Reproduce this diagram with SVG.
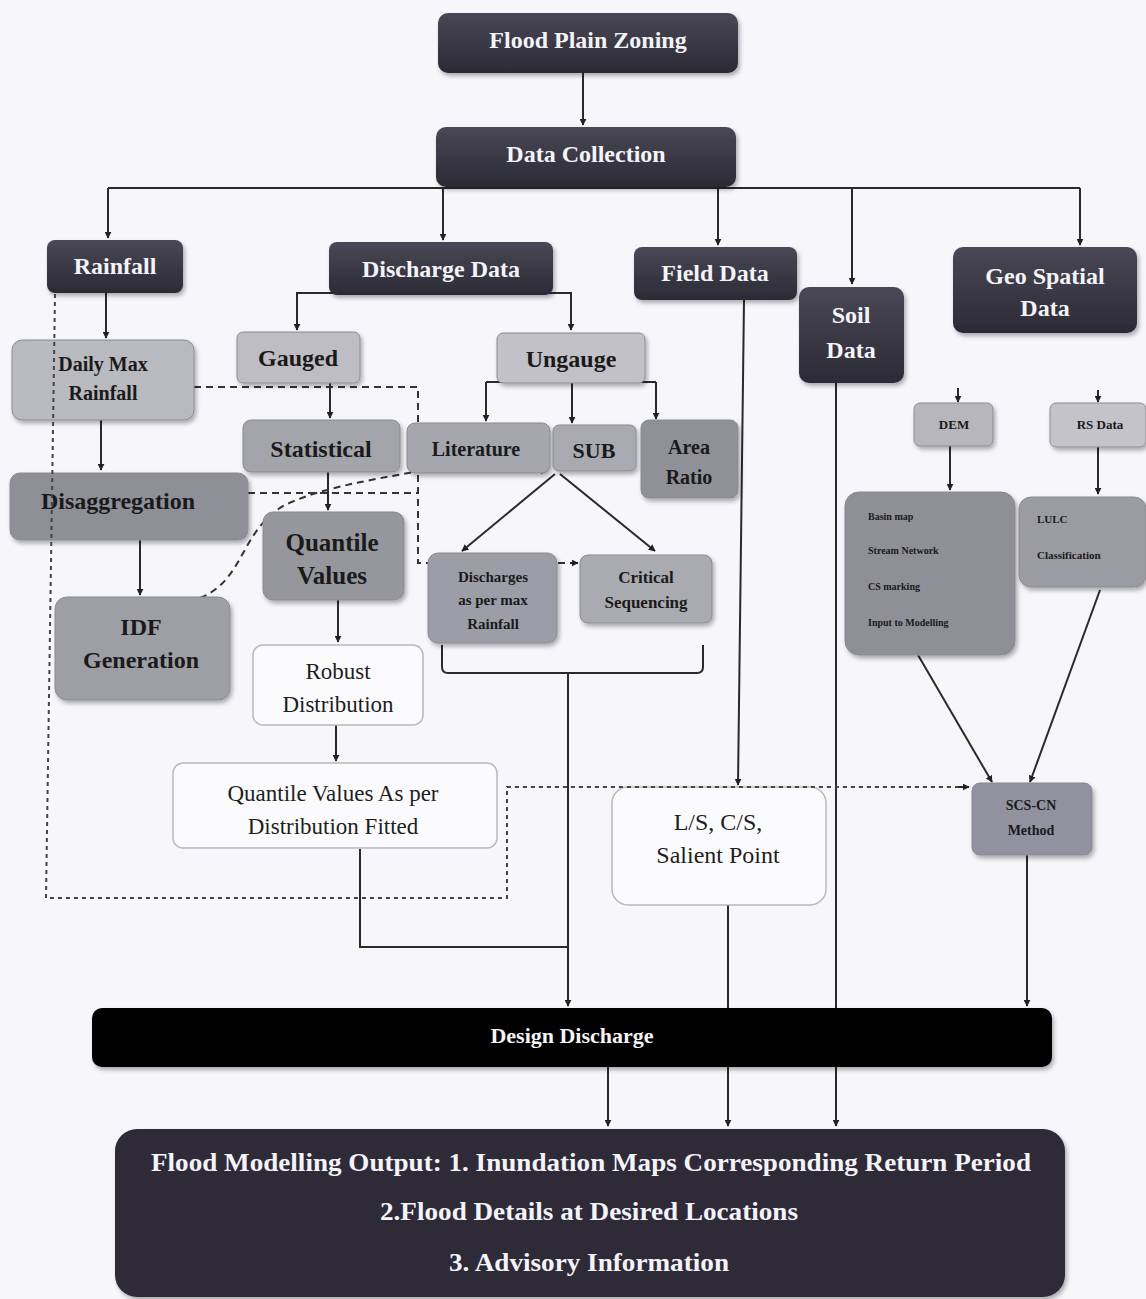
<svg xmlns="http://www.w3.org/2000/svg" width="1146" height="1299" viewBox="0 0 1146 1299">
<defs>
<marker id="ah" viewBox="0 0 10 10" refX="9" refY="5" markerWidth="7" markerHeight="7" orient="auto-start-reverse" markerUnits="userSpaceOnUse">
<path d="M0,0 L10,5 L0,10 z" fill="#222"/>
</marker>
<linearGradient id="dark" x1="0" y1="0" x2="0" y2="1">
<stop offset="0" stop-color="#4a4856"/>
<stop offset="1" stop-color="#2c2a36"/>
</linearGradient>
<filter id="sh" x="-10%" y="-10%" width="125%" height="130%">
<feDropShadow dx="2" dy="3" stdDeviation="2" flood-color="#000" flood-opacity="0.3"/>
</filter>
</defs>
<style>
text{font-family:"Liberation Serif","Times New Roman",serif;text-anchor:middle;}
.dk rect{fill:url(#dark);filter:url(#sh);}
.dk text{fill:#f4f4f8;font-weight:bold;}
.gr text{fill:#1a1a1a;font-weight:bold;}
.gr rect{filter:url(#sh);stroke:#8a8a92;stroke-width:1;}
.wh rect{fill:#fbfbfd;stroke:#b8b8c0;stroke-width:1.5;}
.wh text{fill:#1e1e1e;}
.ln{fill:none;stroke:#2a2a2a;stroke-width:2;}
.ar{marker-end:url(#ah);}
.ds{fill:none;stroke:#333;stroke-width:2;stroke-dasharray:7,5;}
.dt{fill:none;stroke:#444;stroke-width:2;stroke-dasharray:4,4;}
</style>
<rect width="1146" height="1299" fill="#f6f6fb"/>

<g id="connectors">
<path class="ln ar" d="M583,73 V125"/>
<path class="ln" d="M108,188 H1080"/>
<path class="ln ar" d="M108,188 V238"/>
<path class="ln ar" d="M443,188 V240"/>
<path class="ln ar" d="M718,188 V245"/>
<path class="ln ar" d="M852,188 V284"/>
<path class="ln ar" d="M1080,188 V245"/>
<path class="ln ar" d="M106,293 V338"/>
<path class="ln ar" d="M434,293 H297 V330"/>
<path class="ln ar" d="M434,293 H571 V330"/>
<path class="ln" d="M486,382 H656"/>
<path class="ln ar" d="M486,382 V421"/>
<path class="ln ar" d="M572,382 V423"/>
<path class="ln ar" d="M656,382 V419"/>
<path class="ln ar" d="M330,383 V418"/>
<path class="ln ar" d="M101,420 V470"/>
<path class="ln ar" d="M328,472 V510"/>
<path class="ln ar" d="M140,540 V595"/>
<path class="ln ar" d="M338,600 V642"/>
<path class="ln ar" d="M336,725 V761"/>
<path class="ln ar" d="M555,474 L462,551"/>
<path class="ln ar" d="M560,474 L655,551"/>
<path class="ln" d="M442,645 V667 Q442,673 448,673 H697 Q703,673 703,667 V645"/>
<path class="ln ar" d="M568,673 V1006"/>
<path class="ln" d="M360,849 V947 H567"/>
<path class="ln ar" d="M744,300 L738,785"/>
<path class="ln ar" d="M728,905 V1126"/>
<path class="ln ar" d="M836,383 V1126"/>
<path class="ln ar" d="M958,388 V402"/>
<path class="ln ar" d="M1098,390 V402"/>
<path class="ln ar" d="M950,446 V490"/>
<path class="ln ar" d="M1098,447 V494"/>
<path class="ln ar" d="M918,655 L992,782"/>
<path class="ln ar" d="M1100,590 L1030,782"/>
<path class="ln ar" d="M1027,855 V1006"/>
<path class="ln ar" d="M608,1067 V1126"/>
<path class="ds" d="M194,387 H418 V563 H570"/>
<path d="M570,563 H578" class="ln ar"/>
<path class="ds" d="M418,431 H540"/>
<path d="M540,431 H550" class="ln ar"/>
<path class="ds" d="M248,493 H418"/>
<path class="ds" d="M200,598 C245,580 240,530 285,505 C320,488 370,480 420,471 H535"/>
<path d="M535,471 H547" class="ln ar"/>
</g>

<g id="n-flood-plain" class="dk"><rect x="438" y="13" width="300" height="60" rx="10"/><text x="588" y="48" font-size="24">Flood Plain Zoning</text></g>
<g id="n-data-collection" class="dk"><rect x="436" y="127" width="300" height="60" rx="10"/><text x="586" y="162" font-size="24">Data Collection</text></g>
<g id="n-rainfall" class="dk"><rect x="47" y="240" width="136" height="53" rx="8"/><text x="115" y="274" font-size="24">Rainfall</text></g>
<g id="n-discharge-data" class="dk"><rect x="329" y="242" width="224" height="53" rx="8"/><text x="441" y="277" font-size="24">Discharge Data</text></g>
<g id="n-field-data" class="dk"><rect x="634" y="247" width="163" height="53" rx="8"/><text x="715" y="281" font-size="24">Field Data</text></g>
<g id="n-soil-data" class="dk"><rect x="799" y="287" width="105" height="96" rx="10"/><text x="851" y="323" font-size="24">Soil</text><text x="851" y="358" font-size="24">Data</text></g>
<g id="n-geo-spatial" class="dk"><rect x="953" y="247" width="184" height="86" rx="10"/><text x="1045" y="284" font-size="24">Geo Spatial</text><text x="1045" y="316" font-size="24">Data</text></g>

<g id="n-daily-max" class="gr"><rect x="12" y="340" width="182" height="80" rx="10" fill="#b9b9c0"/><text x="103" y="371" font-size="20">Daily Max</text><text x="103" y="400" font-size="20">Rainfall</text></g>
<g id="n-gauged" class="gr"><rect x="237" y="332" width="123" height="51" rx="6" fill="#bdbdc3"/><text x="298" y="366" font-size="24">Gauged</text></g>
<g id="n-ungauge" class="gr"><rect x="497" y="333" width="148" height="50" rx="6" fill="#c1c1c7"/><text x="571" y="367" font-size="24">Ungauge</text></g>
<g id="n-statistical" class="gr"><rect x="243" y="420" width="157" height="52" rx="8" fill="#a4a4ab"/><text x="321" y="457" font-size="24">Statistical</text></g>
<g id="n-literature" class="gr"><rect x="407" y="423" width="143" height="50" rx="8" fill="#a6a6ae"/><text x="476" y="456" font-size="20">Literature</text></g>
<g id="n-sub" class="gr"><rect x="553" y="425" width="83" height="46" rx="6" fill="#a9a9b1"/><text x="594" y="458" font-size="22">SUB</text></g>
<g id="n-area-ratio" class="gr"><rect x="641" y="420" width="97" height="78" rx="8" fill="#909098"/><text x="689" y="454" font-size="20">Area</text><text x="689" y="484" font-size="20">Ratio</text></g>
<g id="n-disaggregation" class="gr"><rect x="10" y="473" width="238" height="67" rx="10" fill="#8f8f97"/><text x="118" y="509" font-size="24">Disaggregation</text></g>
<g id="n-quantile-values" class="gr"><rect x="263" y="512" width="141" height="88" rx="10" fill="#96969d"/><text x="332" y="551" font-size="25">Quantile</text><text x="332" y="584" font-size="25">Values</text></g>
<g id="n-idf" class="gr"><rect x="55" y="597" width="175" height="103" rx="12" fill="#9e9ea5"/><text x="141" y="635" font-size="24">IDF</text><text x="141" y="668" font-size="24">Generation</text></g>
<g id="n-discharges-max" class="gr"><rect x="428" y="553" width="129" height="90" rx="10" fill="#9d9da7"/><text x="493" y="582" font-size="15">Discharges</text><text x="493" y="605" font-size="15">as per max</text><text x="493" y="629" font-size="15">Rainfall</text></g>
<g id="n-critical" class="gr"><rect x="580" y="555" width="132" height="68" rx="8" fill="#aaaab1"/><text x="646" y="583" font-size="17">Critical</text><text x="646" y="608" font-size="17">Sequencing</text></g>

<g id="n-robust" class="wh"><rect x="253" y="645" width="170" height="80" rx="10"/><text x="338" y="679" font-size="23">Robust</text><text x="338" y="712" font-size="23">Distribution</text></g>
<g id="n-quantile-fitted" class="wh"><rect x="173" y="763" width="324" height="85" rx="10"/><text x="333" y="801" font-size="23">Quantile Values As per</text><text x="333" y="834" font-size="23">Distribution Fitted</text></g>
<g id="n-ls-cs" class="wh"><rect x="612" y="787" width="214" height="118" rx="16" stroke="#555"/><text x="718" y="830" font-size="24">L/S, C/S,</text><text x="718" y="863" font-size="24">Salient Point</text></g>

<g id="n-dem" class="gr"><rect x="914" y="403" width="79" height="43" rx="6" fill="#b6b6bc"/><text x="954" y="429" font-size="13">DEM</text></g>
<g id="n-rs-data" class="gr"><rect x="1050" y="403" width="96" height="44" rx="6" fill="#c3c3c9"/><text x="1100" y="429" font-size="13">RS Data</text></g>
<g id="n-basin" class="gr"><rect x="845" y="492" width="170" height="163" rx="14" fill="#8f8f97"/>
<text x="868" y="520" font-size="10" style="text-anchor:start">Basin map</text>
<text x="868" y="554" font-size="10" style="text-anchor:start">Stream Network</text>
<text x="868" y="590" font-size="10" style="text-anchor:start">CS marking</text>
<text x="868" y="626" font-size="10" style="text-anchor:start">Input to Modelling</text></g>
<g id="n-lulc" class="gr"><rect x="1019" y="497" width="127" height="90" rx="12" fill="#9b9ba3"/>
<text x="1037" y="523" font-size="11" style="text-anchor:start">LULC</text>
<text x="1037" y="559" font-size="11" style="text-anchor:start">Classification</text></g>
<g id="n-scs-cn" class="gr"><rect x="972" y="783" width="120" height="72" rx="8" fill="#91919f" stroke="#555"/><text x="1031" y="810" font-size="14">SCS-CN</text><text x="1031" y="835" font-size="14">Method</text></g>

<g id="n-design-discharge" class="dk"><rect x="92" y="1008" width="960" height="59" rx="10" style="fill:#060606"/><text x="572" y="1043" font-size="22">Design Discharge</text></g>
<g id="n-flood-output" class="dk"><rect x="115" y="1129" width="950" height="168" rx="22" style="fill:#2e2b38"/>
<text x="591" y="1171" font-size="25" textLength="880" lengthAdjust="spacingAndGlyphs">Flood Modelling Output: 1. Inundation Maps Corresponding Return Period</text>
<text x="589" y="1220" font-size="25" textLength="418" lengthAdjust="spacingAndGlyphs">2.Flood Details at Desired Locations</text>
<text x="589" y="1271" font-size="25" textLength="280" lengthAdjust="spacingAndGlyphs">3. Advisory Information</text></g>

<g id="connectors-overlay">
<path class="dt" d="M55,294 L46,898 H507 V787 H958"/>
<path d="M958,787 H969" class="ln ar"/>
</g>
</svg>
